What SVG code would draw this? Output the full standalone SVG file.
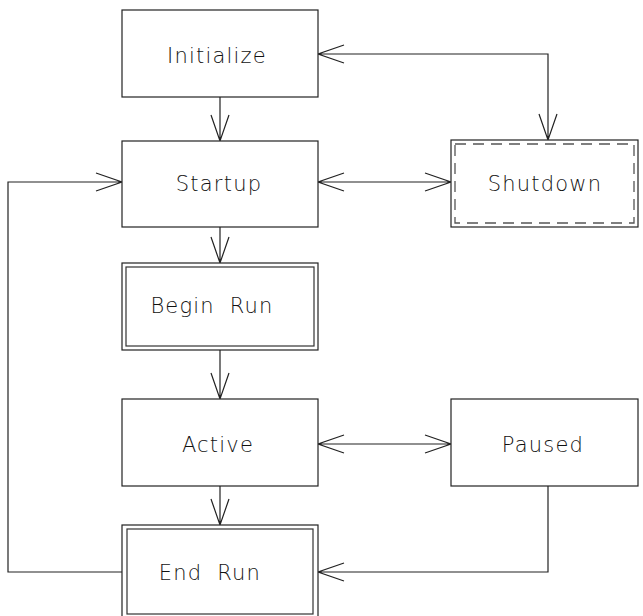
<svg xmlns="http://www.w3.org/2000/svg" width="643" height="616" viewBox="0 0 643 616">
<style>
.box{fill:#fff;stroke:#222;stroke-width:1.2}
.in{fill:none;stroke:#333;stroke-width:1.2}
.dash{fill:none;stroke:#555;stroke-width:1.3;stroke-dasharray:11 7}
.lbl{font-family:"DejaVu Sans","Liberation Sans",sans-serif;font-weight:200;font-size:21px;letter-spacing:1.2px;word-spacing:7px;fill:#111;text-anchor:middle}
.c{fill:none;stroke:#222;stroke-width:1.2}
</style>
<rect width="643" height="616" fill="#fff"/>
<g id="connectors">
<path class="c" d="M220 97V141M211 115L220 141L229 115"/>
<path class="c" d="M220 227V263M211 237L220 263L229 237"/>
<path class="c" d="M220 350V399M211 373L220 399L229 373"/>
<path class="c" d="M220 486V525M211 499L220 525L229 499"/>
<path class="c" d="M318 54H548V140M344 45L318 54L344 63M539 114L548 140L557 114"/>
<path class="c" d="M318 182H451M344 173L318 182L344 191M425 173L451 182L425 191"/>
<path class="c" d="M318 444H451M344 435L318 444L344 453M425 435L451 444L425 453"/>
<path class="c" d="M548 486V572H318M344 563L318 572L344 581"/>
<path class="c" d="M122 572H8V182H122M96 173L122 182L96 191"/>
</g>
<g id="initialize"><rect class="box" x="122" y="10" width="196" height="87"/><text class="lbl" x="217" y="63">Initialize</text></g>
<g id="startup"><rect class="box" x="122" y="141" width="196" height="86"/><text class="lbl" x="219" y="191">Startup</text></g>
<g id="shutdown"><rect class="box" x="451" y="140" width="187" height="87"/><rect class="dash" x="455" y="144" width="179" height="79"/><text class="lbl" x="545" y="191">Shutdown</text></g>
<g id="beginrun"><rect class="box" x="122" y="263" width="196" height="87"/><rect class="in" x="126" y="267" width="188" height="79"/><text class="lbl" x="212" y="313">Begin Run</text></g>
<g id="active"><rect class="box" x="122" y="399" width="196" height="87"/><text class="lbl" x="218" y="452">Active</text></g>
<g id="paused"><rect class="box" x="451" y="399" width="187" height="87"/><text class="lbl" x="543" y="452">Paused</text></g>
<g id="endrun"><rect class="box" x="122" y="525" width="196" height="93"/><rect class="in" x="127" y="529" width="186" height="85"/><text class="lbl" x="210" y="580">End Run</text></g>
</svg>
